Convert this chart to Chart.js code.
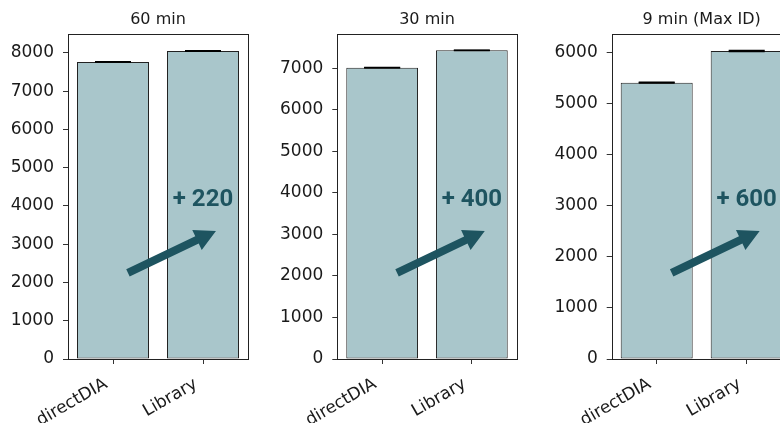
<!DOCTYPE html>
<html>
<head>
<meta charset="utf-8">
<script src="https://cdn.jsdelivr.net/npm/chart.js@4"></script>
<style>
  html, body { margin: 0; padding: 0; background: #fff; }
  body { width: 780px; height: 423px; overflow: hidden; position: relative; }
  .panel { position: absolute; top: 0; }
</style>
</head>
<body>
<div class="panel" id="p0"><canvas id="c0" width="260" height="423"></canvas></div>
<div class="panel" id="p1"><canvas id="c1" width="270" height="423"></canvas></div>
<div class="panel" id="p2"><canvas id="c2" width="270" height="423"></canvas></div>
<script>
// data
const CATEGORIES = ['directDIA', 'Library'];
const PANEL_TITLES = ['60 min', '30 min', '9 min (Max ID)'];
const VALUES_60 = [7765, 8052];
const VALUES_30 = [7015, 7433];
const VALUES_9 = [5407, 6027];
const ERRORS_60 = [6, 6];
const ERRORS_30 = [4, 4];
const ERRORS_9 = [8, 10];
const Y_MAX = [8494, 7826, 6359];
const Y_TICKS_60 = [0, 1000, 2000, 3000, 4000, 5000, 6000, 7000, 8000];
const Y_TICKS_30 = [0, 1000, 2000, 3000, 4000, 5000, 6000, 7000];
const Y_TICKS_9 = [0, 1000, 2000, 3000, 4000, 5000, 6000];
const GAIN_LABELS = ['+ 220', '+ 400', '+ 600'];

const BAR_COLOR = '#a9c6cb';
const ACCENT = '#1e5460';
const INK = '#1a1a1a';

// where each panel sits on the page
const panels = [
    { left: 0,   width: 260, plotLeft: 68,   padRight: 12,   values: VALUES_60, errors: ERRORS_60, ticks: Y_TICKS_60 },
    { left: 260, width: 270, plotLeft: 77.3, padRight: 13.3, values: VALUES_30, errors: ERRORS_30, ticks: Y_TICKS_30 },
    { left: 530, width: 270, plotLeft: 81.7, padRight: 8.3,  values: VALUES_9,  errors: ERRORS_9,  ticks: Y_TICKS_9 }
];

// arrow + label in axes fraction (x from left, y from bottom)
const ARROW_FROM = [0.333, 0.265];
const ARROW_TO = [0.822, 0.394];
const GAIN_POS = [0.75, 0.489];

const panelDecor = {
    id: 'panelDecor',
    afterDatasetsDraw(chart, args, opts) {
        const { ctx, chartArea: a, scales: { y } } = chart;
        const meta = chart.getDatasetMeta(0);
        const vals = chart.data.datasets[0].data;

        ctx.save();
        // error bar caps
        ctx.strokeStyle = '#000';
        ctx.lineWidth = 1.5;
        meta.data.forEach((bar, i) => {
            const v = vals[i], e = opts.errors[i];
            [v + e, v - e].forEach(val => {
                const py = y.getPixelForValue(val);
                ctx.beginPath();
                ctx.moveTo(bar.x - 18, py);
                ctx.lineTo(bar.x + 18, py);
                ctx.stroke();
            });
            ctx.beginPath();
            ctx.moveTo(bar.x, y.getPixelForValue(v + e));
            ctx.lineTo(bar.x, y.getPixelForValue(v - e));
            ctx.stroke();
        });

        // frame
        ctx.strokeStyle = '#222';
        ctx.lineWidth = 1;
        ctx.strokeRect(Math.round(a.left) + 0.5, Math.round(a.top) + 0.5,
            Math.round(a.right) - Math.round(a.left), Math.round(a.bottom) - Math.round(a.top));

        // title
        ctx.fillStyle = INK;
        ctx.font = '16px "DejaVu Sans"';
        ctx.textAlign = 'center';
        ctx.textBaseline = 'middle';
        ctx.fillText(opts.title, (a.left + a.right) / 2, 20);

        // arrow
        const fx = f => a.left + f * (a.right - a.left);
        const fy = f => a.bottom - f * (a.bottom - a.top);
        const tx = fx(ARROW_FROM[0]), ty = fy(ARROW_FROM[1]);
        const hx = fx(ARROW_TO[0]), hy = fy(ARROW_TO[1]);
        const len = Math.hypot(hx - tx, hy - ty);
        const ux = (hx - tx) / len, uy = (hy - ty) / len;
        const nx = -uy, ny = ux;
        const headLen = 21, headHalf = 11, shaftHalf = 4;
        const bx = hx - ux * headLen, by = hy - uy * headLen;
        ctx.fillStyle = ACCENT;
        ctx.beginPath();
        ctx.moveTo(tx + nx * shaftHalf, ty + ny * shaftHalf);
        ctx.lineTo(bx + nx * shaftHalf, by + ny * shaftHalf);
        ctx.lineTo(bx + nx * headHalf, by + ny * headHalf);
        ctx.lineTo(hx, hy);
        ctx.lineTo(bx - nx * headHalf, by - ny * headHalf);
        ctx.lineTo(bx - nx * shaftHalf, by - ny * shaftHalf);
        ctx.lineTo(tx - nx * shaftHalf, ty - ny * shaftHalf);
        ctx.closePath();
        ctx.fill();

        // gain label
        ctx.font = 'bold 24px Roboto';
        ctx.fillText(opts.gain, fx(GAIN_POS[0]), fy(GAIN_POS[1]));
        ctx.restore();
    }
};

panels.forEach((p, i) => {
    const holder = document.getElementById('p' + i);
    holder.style.left = p.left + 'px';

    new Chart(document.getElementById('c' + i), {
        type: 'bar',
        data: {
            labels: CATEGORIES,
            datasets: [{
                data: p.values,
                backgroundColor: BAR_COLOR,
                borderColor: '#222',
                borderWidth: 1,
                borderSkipped: false,
                barPercentage: 0.8,
                categoryPercentage: 1.0
            }]
        },
        options: {
            responsive: false,
            animation: false,
            events: [],
            layout: { padding: { top: 34, right: p.padRight, left: 0, bottom: 0 } },
            plugins: {
                legend: { display: false },
                tooltip: { enabled: false },
                panelDecor: { title: PANEL_TITLES[i], errors: p.errors, gain: GAIN_LABELS[i] }
            },
            scales: {
                x: {
                    afterFit: s => { s.height = 64; },
                    grid: { offset: false, drawOnChartArea: false, drawTicks: true, tickLength: 5, color: '#333' },
                    border: { display: false },
                    ticks: {
                        color: INK,
                        font: { family: 'DejaVu Sans', size: 17 },
                        minRotation: 30,
                        maxRotation: 30,
                        padding: 10,
                        labelOffset: -7
                    }
                },
                y: {
                    min: 0,
                    max: Y_MAX[i],
                    afterFit: s => { s.width = p.plotLeft; },
                    afterBuildTicks: s => { s.ticks = p.ticks.map(v => ({ value: v })); },
                    grid: { drawOnChartArea: false, drawTicks: true, tickLength: 5, color: '#333' },
                    border: { display: false },
                    ticks: {
                        color: INK,
                        padding: 9,
                        font: { family: 'DejaVu Sans', size: 17 },
                        callback: v => String(v)
                    }
                }
            }
        },
        plugins: [panelDecor]
    });
});
</script>
</body>
</html>
